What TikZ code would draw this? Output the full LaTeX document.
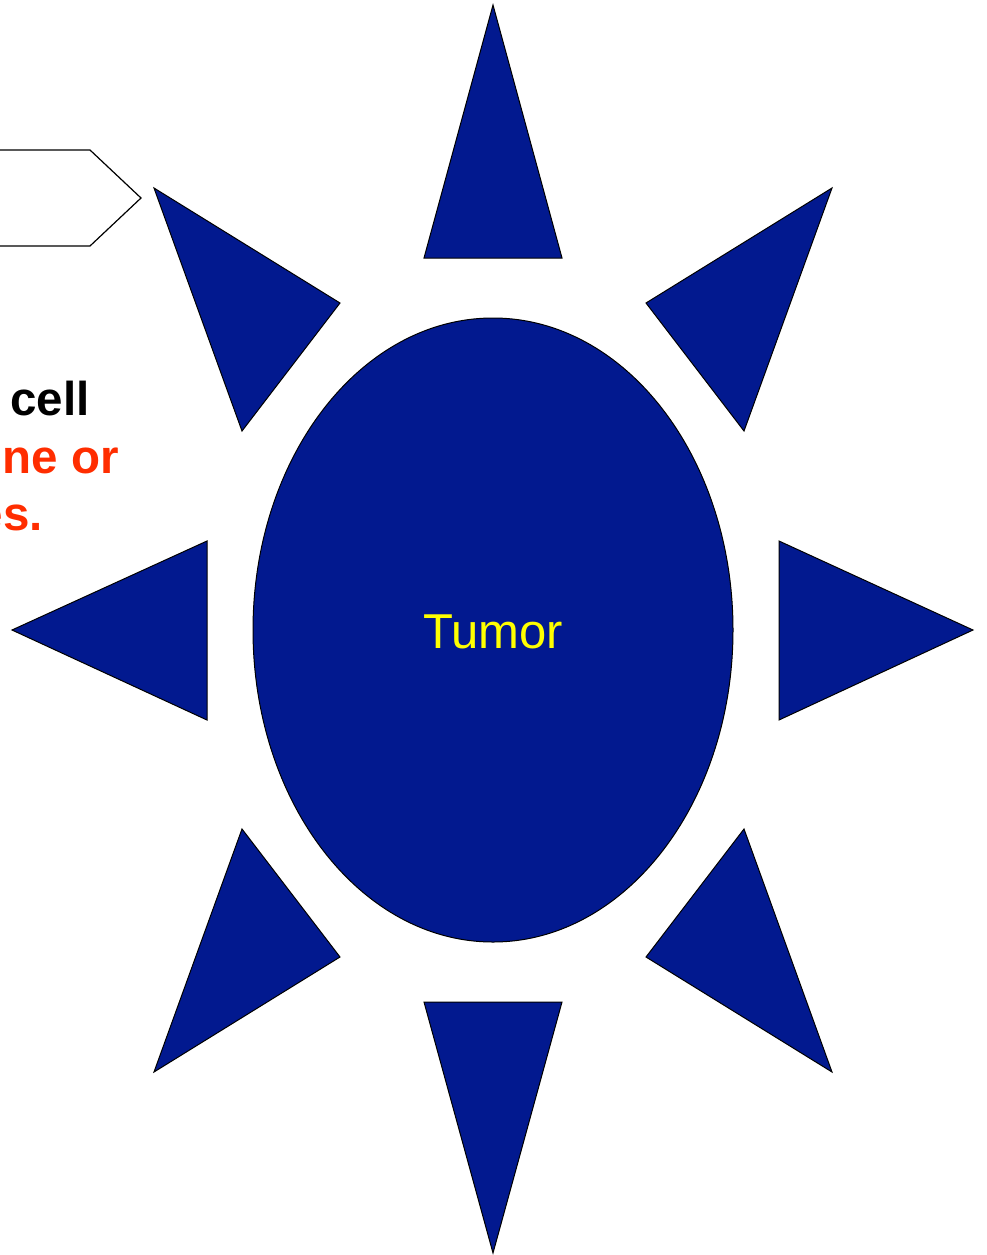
\documentclass[tikz,border=0pt]{standalone}
\usepackage{fontspec}
\setmainfont{Liberation Sans}
\usetikzlibrary{shapes.geometric}
\definecolor{tumorblue}{RGB}{2,25,143}
\definecolor{tumoryellow}{RGB}{255,255,0}
\definecolor{alertred}{RGB}{255,45,0}
\begin{document}
\begin{tikzpicture}[x=1pt,y=-1pt,
  spike/.style={fill=tumorblue,draw=black,line width=1pt,line join=miter},
  bodyshape/.style={fill=tumorblue,draw=black,line width=1pt},
  boldtxt/.style={font=\bfseries\fontsize{47.5}{56}\selectfont,anchor=base east,inner sep=0pt},
  outline/.style={draw=black,line width=1.2pt}]
\useasboundingbox (0,0) rectangle (986,1255);
\clip (0,0) rectangle (986,1255);
% pentagon arrow (cut at left edge)
\draw[outline] (-10,150) -- (90,150) -- (141,198) -- (90,246) -- (-10,246);
% tumor body
\node[bodyshape,ellipse,minimum width=480pt,minimum height=624pt,inner sep=0pt] (tumor) at (493,630) {};
\node[text=tumoryellow,font=\fontsize{49}{58}\selectfont] (tumorlabel) at (493,632) {Tumor};
% spikes
\draw[spike] (493,5) -- (424,258) -- (562,258) -- cycle;
\draw[spike] (493,1253) -- (424,1002) -- (562,1002) -- cycle;
\draw[spike] (12,630) -- (207,541) -- (207,720) -- cycle;
\draw[spike] (973,630) -- (779,541) -- (779,720) -- cycle;
\draw[spike] (154,188) -- (340,303) -- (242,431) -- cycle;
\draw[spike] (832,188) -- (646,303) -- (744,431) -- cycle;
\draw[spike] (154,1072) -- (340,957) -- (242,829) -- cycle;
\draw[spike] (832,1072) -- (646,957) -- (744,829) -- cycle;
% text cut at left edge, as in the reference
\node[boldtxt,text=black] (t1) at (90,415) {cell};
\node[boldtxt,text=alertred] (t2) at (119,473) {ne or};
\node[boldtxt,text=alertred] (t3) at (43,530) {es.};
\end{tikzpicture}
\end{document}
